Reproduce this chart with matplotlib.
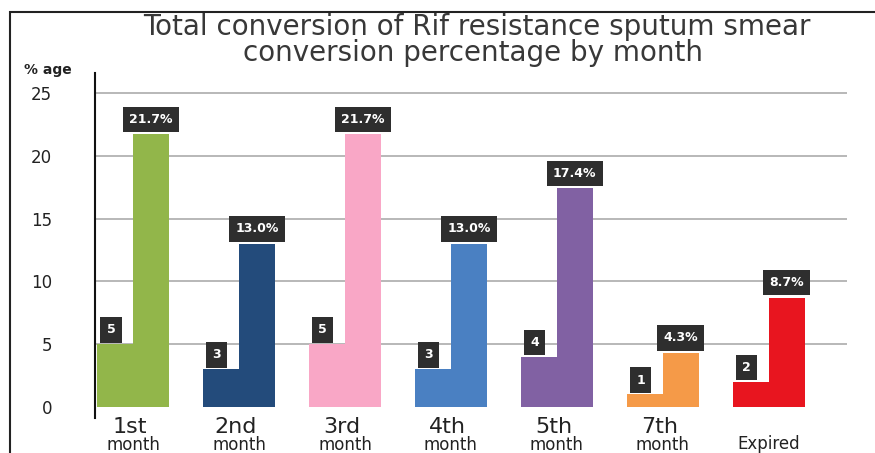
import matplotlib.pyplot as plt
import numpy as np
from matplotlib.patches import Rectangle

# data
categories = ['1st', '2nd', '3rd', '4th', '5th', '7th', 'Expired']
sub_labels = ['month', 'month', 'month', 'month', 'month', 'month', '']
counts = [5, 3, 5, 3, 4, 1, 2]
percents = [21.7, 13.0, 21.7, 13.0, 17.4, 4.3, 8.7]
colors = ['#92b64a', '#234b7b', '#f9a7c6', '#4a80c2', '#8161a3', '#f59a48', '#e8151f']
yticks = [0, 5, 10, 15, 20, 25]

plt.rcParams['font.family'] = ['DejaVu Sans']

fig = plt.figure(figsize=(8.75, 4.53), dpi=100)
ax = fig.add_axes([95 / 875, 1 - 418 / 453, (847 - 95) / 875, (418 - 73) / 453])

x = np.arange(len(categories))
w = 0.34
b1 = ax.bar(x - w / 2, counts, w, color=colors, zorder=2)
b2 = ax.bar(x + w / 2, percents, w, color=colors, zorder=2)

box = dict(boxstyle='square,pad=0.5', fc='#2e2e2e', ec='none')
for rect, c in zip(b1, counts):
    ax.annotate(str(c), (rect.get_x() + rect.get_width() / 2 - 0.04, rect.get_height()),
                xytext=(0, 5.5), textcoords='offset points', ha='center', va='bottom',
                color='white', fontsize=9, fontweight='bold', bbox=box, zorder=3)
for rect, p in zip(b2, percents):
    ax.annotate('%.1f%%' % p, (rect.get_x() + rect.get_width() / 2, rect.get_height()),
                xytext=(0, 6), textcoords='offset points', ha='center', va='bottom',
                color='white', fontsize=9, fontweight='bold', bbox=box, zorder=3)

ax.set_xlim(-0.36, 6.74)
ax.set_ylim(-0.9, 26.6)
ax.set_yticks(yticks)
ax.tick_params(axis='y', length=0, pad=31, labelsize=12, labelcolor='#222222')
ax.set_xticks([])
for y in yticks[1:]:
    ax.axhline(y, color='#ababab', lw=1.2, zorder=1)

for s in ['top', 'right', 'bottom']:
    ax.spines[s].set_visible(False)
ax.spines['left'].set_linewidth(1.5)
ax.spines['left'].set_color('#111111')

# two-line category labels under the bars
for i, (cat, sub) in enumerate(zip(categories, sub_labels)):
    if sub:
        ax.text(i - 0.03, -0.8, cat, ha='center', va='top', fontsize=16, color='#222222')
        ax.text(i, -2.35, sub, ha='center', va='top', fontsize=12, color='#222222')
    else:
        ax.text(i, -2.25, cat, ha='center', va='top', fontsize=12, color='#222222')

fig.text(48 / 875, 1 - 70 / 453, '% age', ha='center', va='center', fontsize=10,
         fontweight='bold', color='#222222')
fig.text(477 / 875, 1 - 27 / 453, 'Total conversion of Rif resistance sputum smear',
         ha='center', va='center', fontsize=20, color='#383838')
fig.text(473 / 875, 1 - 53 / 453, 'conversion percentage by month',
         ha='center', va='center', fontsize=20, color='#383838')

# screenshot frame
fig.patches.append(Rectangle((10 / 875, -0.1), 1.2, 1.1 - 12 / 453, transform=fig.transFigure,
                             fill=False, ec='#222222', lw=1.5))

fig.savefig('out.png', dpi=100)
